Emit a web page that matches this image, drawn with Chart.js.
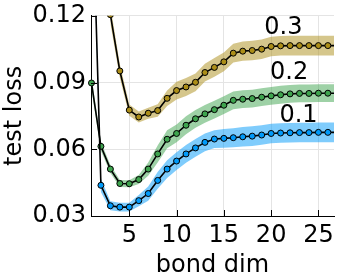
<!DOCTYPE html>
<html>
<head>
<meta charset="utf-8">
<script src="https://cdn.jsdelivr.net/npm/chart.js@4/dist/chart.umd.min.js"></script>
<style>
  html, body { margin: 0; padding: 0; background: #fff; }
  #box { width: 342px; height: 274px; }
</style>
</head>
<body>
<div id="box"><canvas id="wykres" width="342" height="274"></canvas></div>
<script>
// bond dim (x)
const bondDim = [1, 2, 3, 4, 5, 6, 7, 8, 9, 10, 11, 12, 13, 14, 15, 16, 17, 18, 19, 20, 21, 22, 23, 24, 25, 26, 27];

// test loss for each noise level (null = not shown)
const loss01 = [0.190, 0.0438, 0.0346, 0.0340, 0.0340, 0.0369, 0.0401, 0.0460, 0.0511, 0.0547, 0.0579, 0.0606, 0.0631, 0.0646, 0.0649, 0.0652, 0.0656, 0.0659, 0.0664, 0.0671, 0.0673, 0.0674, 0.0675, 0.0675, 0.0676, 0.0676, 0.0676];
const loss02 = [0.0898, 0.0613, 0.0511, 0.0446, 0.0445, 0.0464, 0.0511, 0.0579, 0.0645, 0.0671, 0.0708, 0.0737, 0.0759, 0.0778, 0.0798, 0.0820, 0.0825, 0.0828, 0.0834, 0.0840, 0.0845, 0.0849, 0.0851, 0.0851, 0.0852, 0.0852, 0.0852];
const loss03 = [null, null, 0.1205, 0.0952, 0.0776, 0.0745, 0.0762, 0.0774, 0.0829, 0.0864, 0.0880, 0.0901, 0.0945, 0.0968, 0.0993, 0.1032, 0.1041, 0.1044, 0.1050, 0.1062, 0.1065, 0.1066, 0.1066, 0.1066, 0.1066, 0.1066, 0.1066];

// half width of the shaded band
const band01 = [0.006, 0.003, 0.002, 0.002, 0.002, 0.0025, 0.0032, 0.0038, 0.004, 0.004, 0.004, 0.004, 0.004, 0.004, 0.0042, 0.0043, 0.0044, 0.0044, 0.0044, 0.0044, 0.0044, 0.0044, 0.0044, 0.0044, 0.0044, 0.0044, 0.0044];
const band02 = [0.003, 0.002, 0.0018, 0.0016, 0.0016, 0.002, 0.003, 0.0038, 0.004, 0.004, 0.004, 0.004, 0.004, 0.004, 0.004, 0.004, 0.004, 0.004, 0.004, 0.004, 0.004, 0.004, 0.004, 0.004, 0.004, 0.004, 0.004];
const band03 = [null, null, 0.004, 0.003, 0.0025, 0.0025, 0.0025, 0.0028, 0.0035, 0.004, 0.004, 0.004, 0.004, 0.0042, 0.0042, 0.0042, 0.0043, 0.0044, 0.0044, 0.0044, 0.0044, 0.0044, 0.0044, 0.0044, 0.0044, 0.0044, 0.0044];

// ticks
const xTicks = [5, 10, 15, 20, 25];
const yTicks = [0.03, 0.06, 0.09, 0.12];

// curve labels and where they sit (data coords)
const curveLabels = ['0.3', '0.2', '0.1'];
const labelX = [21.3, 21.9, 22.9];
const labelY = [0.1145, 0.0946, 0.0751];

const FONT = 'DejaVu Sans';

function punkty(ys, off, sign) {
  const out = [];
  ys.forEach((v, i) => {
    if (v === null) return;
    out.push({ x: bondDim[i], y: off ? v + sign * off[i] : v });
  });
  return out;
}

function seria(ys, band, kolor, pasmo) {
  return [
    { data: punkty(ys, band, 1), fill: '+1', backgroundColor: pasmo, borderWidth: 0, pointRadius: 0 },
    { data: punkty(ys, band, -1), fill: false, borderWidth: 0, pointRadius: 0 },
    { data: punkty(ys), fill: false, borderColor: '#000', borderWidth: 1.6,
      pointRadius: 3, pointBackgroundColor: kolor, pointBorderColor: '#000', pointBorderWidth: 1 }
  ];
}

// inward tick marks
const tickiWewnatrz = {
  id: 'tickiWewnatrz',
  afterDatasetsDraw(chart) {
    const { ctx, chartArea, scales } = chart;
    ctx.save();
    ctx.strokeStyle = '#000';
    ctx.lineWidth = 1;
    xTicks.forEach(v => {
      const px = Math.round(scales.x.getPixelForValue(v)) + 0.5;
      ctx.beginPath(); ctx.moveTo(px, chartArea.bottom); ctx.lineTo(px, chartArea.bottom - 6); ctx.stroke();
    });
    yTicks.forEach(v => {
      const py = Math.round(scales.y.getPixelForValue(v)) + 0.5;
      ctx.beginPath(); ctx.moveTo(chartArea.left, py); ctx.lineTo(chartArea.left + 6, py); ctx.stroke();
    });
    // curve labels
    ctx.fillStyle = '#000';
    ctx.font = '24px "' + FONT + '"';
    ctx.textAlign = 'center';
    ctx.textBaseline = 'middle';
    curveLabels.forEach((t, i) => {
      ctx.fillText(t, scales.x.getPixelForValue(labelX[i]), scales.y.getPixelForValue(labelY[i]));
    });
    ctx.restore();
  }
};

new Chart(document.getElementById('wykres'), {
  type: 'line',
  data: {
    datasets: [
      ...seria(loss01, band01, '#009AFA', 'rgba(0,154,250,0.5)'),
      ...seria(loss02, band02, '#3EA44E', 'rgba(62,164,78,0.5)'),
      ...seria(loss03, band03, '#AC8E18', 'rgba(172,142,24,0.5)')
    ].map(d => Object.assign({ tension: 0, clip: { left: 5, top: 0, right: 0, bottom: 5 } }, d))
  },
  options: {
    responsive: false,
    animation: false,
    layout: { padding: { top: 11, right: 0, left: 0, bottom: 0 } },
    plugins: {
      legend: { display: false },
      tooltip: { enabled: false },
      filler: { drawTime: 'beforeDatasetsDraw' }
    },
    scales: {
      x: {
        type: 'linear',
        min: 0.95,
        max: 26.65,
        afterBuildTicks: s => { s.ticks = xTicks.map(v => ({ value: v })); },
        afterFit: s => { s.height = 58; },
        grid: { color: '#e4e4e4', drawTicks: false },
        border: { color: '#000', width: 1 },
        ticks: { padding: 8, color: '#000', font: { family: FONT, size: 24, lineHeight: 1 }, maxRotation: 0 },
        title: { display: true, text: 'bond dim', color: '#000', font: { family: FONT, size: 24, lineHeight: 1 }, padding: { top: 0, bottom: -4 } }
      },
      y: {
        type: 'linear',
        min: 0.03,
        max: 0.12,
        afterBuildTicks: s => { s.ticks = yTicks.map(v => ({ value: v })); },
        afterFit: s => { s.width = 91; },
        grid: { color: '#e4e4e4', drawTicks: false },
        border: { color: '#000', width: 1 },
        ticks: { padding: 5, color: '#000', font: { family: FONT, size: 24, lineHeight: 0.9 },
          callback: v => v.toFixed(2) },
        title: { display: true, text: 'test loss', color: '#000', font: { family: FONT, size: 24, lineHeight: 1 }, padding: { top: 3, bottom: 0 } }
      }
    }
  },
  plugins: [tickiWewnatrz]
});
</script>
</body>
</html>
